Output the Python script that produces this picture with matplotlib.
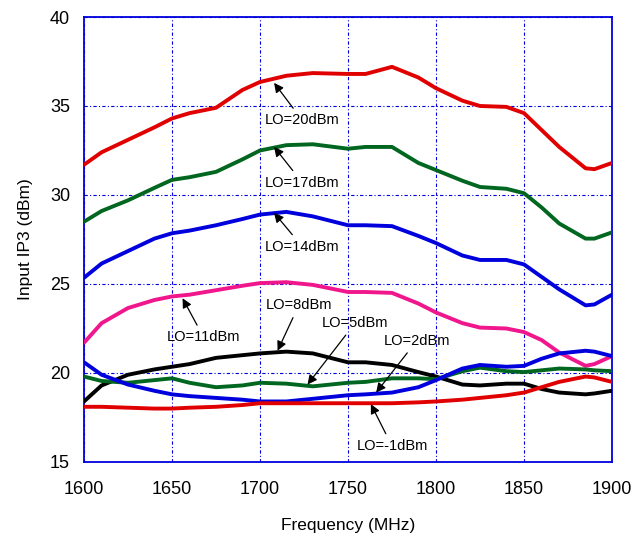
import numpy as np
import matplotlib.pyplot as plt

plt.rcParams['font.family'] = ['Liberation Sans', 'DejaVu Sans']

# frequency points (MHz)
freq = [1600, 1610, 1625, 1640, 1650, 1660, 1675, 1690, 1700, 1715, 1730,
        1750, 1760, 1775, 1790, 1800, 1815, 1825, 1840, 1850, 1860, 1870,
        1885, 1890, 1900]

# input IP3 (dBm) for each LO drive level
iip3_lo20 = [31.7, 32.4, 33.1, 33.8, 34.3, 34.6, 34.9, 35.9, 36.35, 36.7, 36.85,
             36.8, 36.8, 37.2, 36.6, 36.0, 35.3, 35.0, 34.95, 34.6, 33.65, 32.7,
             31.5, 31.45, 31.8]
iip3_lo17 = [28.5, 29.1, 29.7, 30.4, 30.85, 31.0, 31.3, 32.0, 32.5, 32.8, 32.85,
             32.6, 32.7, 32.7, 31.8, 31.4, 30.8, 30.45, 30.35, 30.1, 29.3, 28.4,
             27.55, 27.55, 27.9]
iip3_lo14 = [25.35, 26.15, 26.85, 27.55, 27.85, 28.0, 28.3, 28.65, 28.9, 29.05, 28.8,
             28.3, 28.3, 28.25, 27.7, 27.3, 26.6, 26.35, 26.35, 26.1, 25.4, 24.7,
             23.8, 23.85, 24.4]
iip3_lo11 = [21.7, 22.8, 23.65, 24.1, 24.3, 24.4, 24.65, 24.9, 25.05, 25.1, 24.95,
             24.55, 24.55, 24.5, 23.9, 23.4, 22.8, 22.55, 22.5, 22.3, 21.85, 21.15,
             20.4, 20.5, 20.95]
iip3_lo8 = [18.4, 19.3, 19.9, 20.2, 20.35, 20.5, 20.85, 21.0, 21.1, 21.2, 21.1,
            20.6, 20.6, 20.45, 20.05, 19.8, 19.35, 19.3, 19.4, 19.4, 19.1, 18.9,
            18.8, 18.85, 19.0]
iip3_lo5 = [19.8, 19.55, 19.45, 19.6, 19.7, 19.45, 19.2, 19.3, 19.45, 19.4, 19.25,
            19.45, 19.5, 19.7, 19.7, 19.65, 20.1, 20.3, 20.1, 20.05, 20.15, 20.25,
            20.2, 20.15, 20.1]
iip3_lo2 = [20.6, 19.9, 19.35, 19.0, 18.8, 18.7, 18.6, 18.5, 18.4, 18.4, 18.55,
            18.75, 18.8, 18.9, 19.2, 19.6, 20.25, 20.45, 20.35, 20.4, 20.8, 21.1,
            21.25, 21.2, 20.95]
iip3_lo_m1 = [18.1, 18.1, 18.05, 18.0, 18.0, 18.05, 18.1, 18.2, 18.3, 18.3, 18.3,
              18.3, 18.3, 18.3, 18.35, 18.4, 18.5, 18.6, 18.75, 18.9, 19.2, 19.5,
              19.8, 19.75, 19.5]

labels = ['LO=20dBm', 'LO=17dBm', 'LO=14dBm', 'LO=11dBm',
          'LO=8dBm', 'LO=5dBm', 'LO=2dBm', 'LO=-1dBm']
series = [iip3_lo20, iip3_lo17, iip3_lo14, iip3_lo11,
          iip3_lo8, iip3_lo5, iip3_lo2, iip3_lo_m1]
colors = ['#e00000', '#006620', '#0000dd', '#f0168c',
          '#000000', '#006620', '#0000dd', '#e00000']

# annotation: arrow tip (freq, dBm) and label centre (freq, dBm)
arrow_tip = [(1708, 36.3), (1708, 32.7), (1708, 29.0), (1656, 24.2),
             (1710, 21.25), (1727, 19.35), (1766, 18.9), (1763, 18.25)]
label_pos = [(1724, 34.2), (1724, 30.7), (1724, 27.1), (1668, 22.0),
             (1722, 23.8), (1754, 22.8), (1789, 21.8), (1775, 15.9)]


fig = plt.figure(figsize=(6.33, 5.38), dpi=100)
ax = fig.add_axes([0.1327, 0.1413, 0.8341, 0.8271])

for y, c in zip(series, colors):
    ax.plot(freq, y, color=c, linewidth=2.8, solid_joinstyle='round',
            solid_capstyle='round', zorder=3)

for lab, tip, pos in zip(labels, arrow_tip, label_pos):
    ax.annotate(lab, xy=tip, xytext=pos, ha='center', va='center', fontsize=10.5,
                arrowprops=dict(arrowstyle='-|>', color='k', lw=0.9,
                                mutation_scale=14, shrinkA=2, shrinkB=0),
                zorder=4)

ax.set_xlim(1600, 1900)
ax.set_ylim(15, 40)
ax.set_xticks(np.arange(1600, 1901, 50))
ax.set_yticks(np.arange(15, 41, 5))
ax.grid(True, color='#0000dd', linestyle=(0, (3, 2, 1, 2)), linewidth=0.8)
for s in ax.spines.values():
    s.set_color('#0000dd')
    s.set_linewidth(1.3)
ax.tick_params(axis='x', length=0, labelsize=13, pad=14)
ax.tick_params(axis='y', length=0, labelsize=13, pad=10)

ax.set_xlabel('Frequency (MHz)', fontsize=12.5, labelpad=14)
ax.set_ylabel('Input IP3 (dBm)', fontsize=12.5, labelpad=12)

fig.savefig('out.png', dpi=100)
